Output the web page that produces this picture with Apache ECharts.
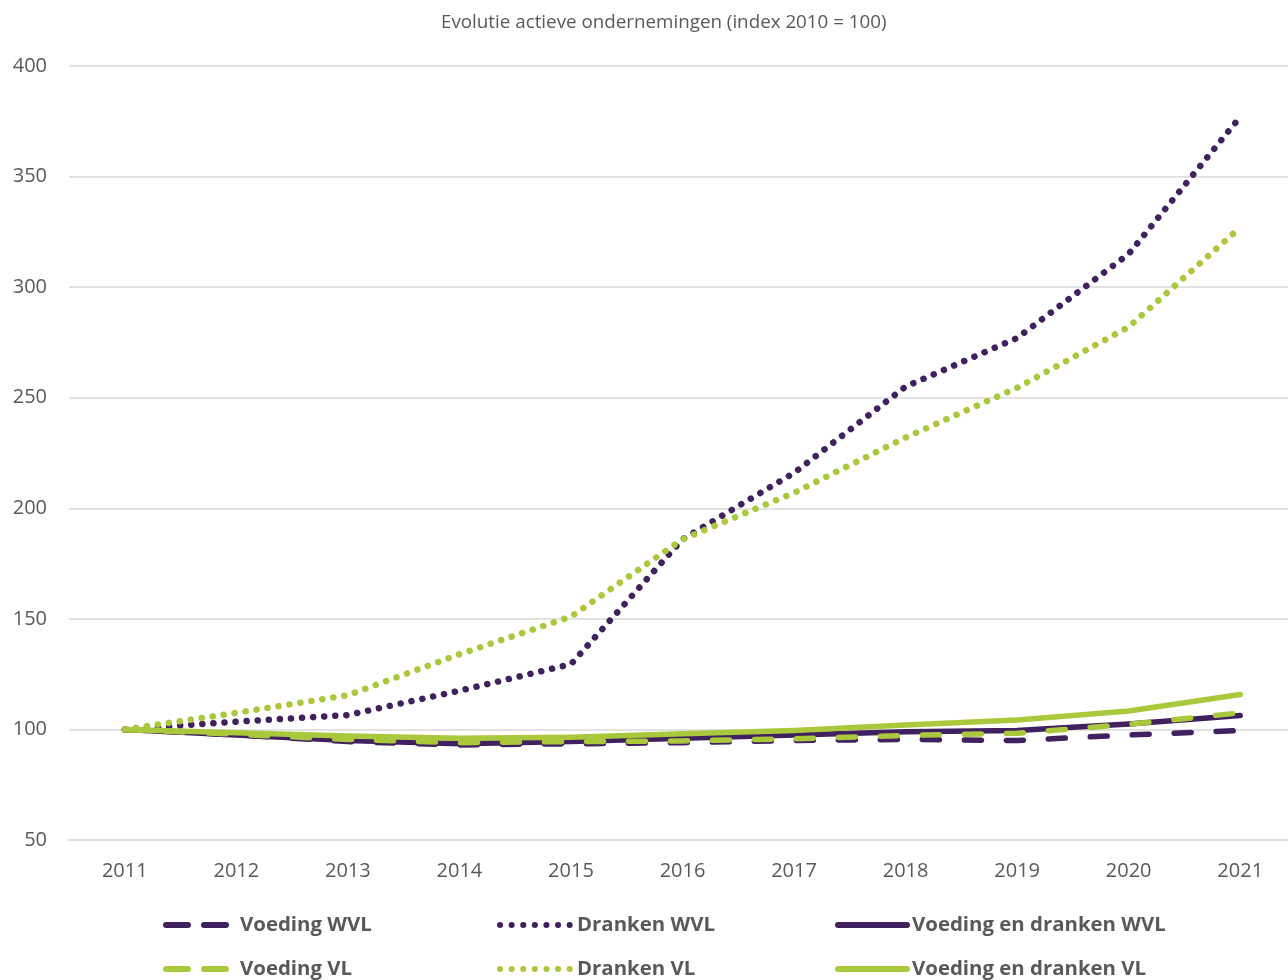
<!DOCTYPE html>
<html>
<head>
<meta charset="utf-8">
<script src="https://cdn.jsdelivr.net/npm/echarts@6/dist/echarts.min.js"></script>
<style>html,body{margin:0;padding:0;background:#fff;overflow:hidden}#c{width:1296px;height:980px}</style>
</head>
<body>
<div id="c"></div>
<script>
const years = ['2011','2012','2013','2014','2015','2016','2017','2018','2019','2020','2021'];
const voedingWVL = [100, 97.5, 94.5, 93, 93.5, 94, 95, 95.5, 95, 97.5, 99.5];
const drankenWVL = [100, 103.5, 106.5, 117.5, 129.5, 186, 216, 255, 277, 315, 377];
const vdWVL = [100, 97.5, 95, 93.5, 94.5, 96, 97.5, 99, 99.5, 102.5, 106.3];
const voedingVL = [100, 97.8, 95.5, 94, 94.5, 94.8, 95.8, 97.3, 98.3, 102.3, 107.5];
const drankenVL = [100, 107.5, 115.5, 134, 151, 186, 207, 232, 254.5, 282, 327];
const vdVL = [100, 98.5, 97, 96, 96.5, 98, 99.5, 102, 104.3, 108.3, 115.8];
const names = ['Voeding WVL','Dranken WVL','Voeding en dranken WVL','Voeding VL','Dranken VL','Voeding en dranken VL'];

const PURPLE = '#40205f';
const GREEN = '#a9c83b';
const DASH = [17, 25];
const DOT = [0.1, 11];

function mk(name, data, color, type, width) {
  return {
    name: name, type: 'line', data: data, symbol: 'none', smooth: false,
    lineStyle: {color: color, width: width, type: type, cap: 'round', join: 'round'},
    itemStyle: {color: color},
    emphasis: {disabled: true}
  };
}

const legendPos = [
  {left: 163, top: 915}, {left: 497, top: 915}, {left: 835, top: 915},
  {left: 163, top: 959}, {left: 497, top: 959}, {left: 835, top: 959}
];
const legendW = [67, 70, 69, 67, 70, 69];
const legendPad = [2, 2, 0, 2, 2, 0];
const legendDash = [[22, 16], [0.1, 11.5], 'solid', [22, 16], [0.1, 11.5], 'solid'];

const chart = echarts.init(document.getElementById('c'), null, {renderer: 'canvas'});
chart.setOption({
  animation: false,
  backgroundColor: '#ffffff',
  title: {
    text: 'Evolutie actieve ondernemingen (index 2010 = 100)',
    left: 436, top: 8,
    textStyle: {fontFamily: 'Open Sans', fontSize: 18.8, fontWeight: 'normal', color: '#595959'}
  },
  legend: names.map((n, i) => ({
    data: [n], left: legendPos[i].left, top: legendPos[i].top, padding: 0,
    itemWidth: legendW[i], itemHeight: 14, itemGap: 0,
    itemStyle: {opacity: 0},
    lineStyle: {width: 6, type: legendDash[i], cap: 'round'},
    textStyle: {fontFamily: 'Open Sans', fontSize: 20.4, fontWeight: 'bold', color: '#595959', padding: [0, 0, 0, legendPad[i]]},
    selectedMode: false
  })),
  grid: {left: 69, right: 0, top: 66, bottom: 140, containLabel: false},
  xAxis: {
    type: 'category', data: years, boundaryGap: true,
    axisLine: {show: true, lineStyle: {color: '#d9d9d9', width: 1.5}},
    axisTick: {show: false},
    axisLabel: {fontFamily: 'Open Sans', fontSize: 20, color: '#595959', margin: 21}
  },
  yAxis: {
    type: 'value', min: 50, max: 400, interval: 50,
    axisLine: {show: false}, axisTick: {show: false},
    splitLine: {lineStyle: {color: '#d9d9d9', width: 1.5}},
    axisLabel: {fontFamily: 'Open Sans', fontSize: 20, color: '#595959', margin: 22}
  },
  series: [
    mk(names[0], voedingWVL, PURPLE, DASH, 5.5),
    mk(names[1], drankenWVL, PURPLE, DOT, 6.5),
    mk(names[2], vdWVL, PURPLE, 'solid', 5.5),
    mk(names[3], voedingVL, GREEN, DASH, 5.5),
    mk(names[4], drankenVL, GREEN, DOT, 6.5),
    mk(names[5], vdVL, GREEN, 'solid', 5.5)
  ]
});
</script>
</body>
</html>
